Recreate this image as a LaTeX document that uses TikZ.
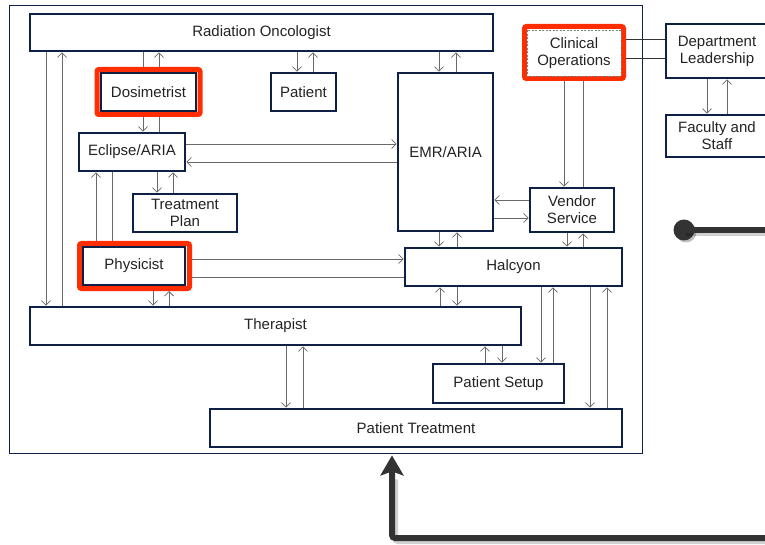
\documentclass[tikz,border=0pt]{standalone}
\usepackage{fontspec}
\setmainfont{Liberation Sans}
\usetikzlibrary{arrows.meta,shadows,calc}
\definecolor{navy}{RGB}{14,32,70}
\definecolor{lgray}{RGB}{105,105,105}
\definecolor{hred}{RGB}{255,45,0}
\definecolor{txt}{RGB}{35,35,35}
\definecolor{dark}{RGB}{51,51,51}
\begin{document}
\begin{tikzpicture}[x=1pt,y=-1pt,
 box/.style={draw=navy,line width=2.6pt,fill=white,text=txt,font=\fontsize{15}{17}\selectfont,align=center,inner sep=0pt},
 hl/.style={draw=hred,line width=5pt,fill=white,rounded corners=2pt,inner sep=0pt,drop shadow={shadow xshift=1.5pt,shadow yshift=-1.5pt,opacity=0.3,fill=black}},
 arr/.style={draw=lgray,line width=0.8pt,-{Straight Barb[length=4.5pt,width=9pt]}},
 ln/.style={draw=lgray,line width=0.8pt},
]
\useasboundingbox (0,0) rectangle (765,545);
% outer frame
\node[draw=navy,line width=0.8pt,minimum width=633pt,minimum height=448pt,inner sep=0pt] (frame) at (325.5,229) {};
% highlight frames
\node[hl,minimum width=103pt,minimum height=45pt] (dosR) at (148.5,92) {};
\node[hl,minimum width=110pt,minimum height=45pt] (phyR) at (134.5,266) {};
\node[hl,minimum width=99pt,minimum height=52pt] (coR) at (574,52.5) {};
% boxes
\node[box,minimum width=463pt,minimum height=37pt] (RO) at (261.5,32.5) {Radiation Oncologist};
\node[box,minimum width=95pt,minimum height=38pt] (Dos) at (148.5,92) {Dosimetrist};
\node[box,minimum width=65pt,minimum height=38pt] (Pat) at (303.5,92) {Patient};
\node[box,minimum width=95pt,minimum height=158pt] (EMR) at (445.5,152) {EMR/ARIA};
\node[box,minimum width=106pt,minimum height=38pt] (Ecl) at (132,152) {Eclipse/ARIA};
\node[box,minimum width=104pt,minimum height=38pt] (TP) at (185,213) {Treatment\\Plan};
\node[box,minimum width=102pt,minimum height=38pt] (Phy) at (134,266) {Physicist};
\node[box,minimum width=491pt,minimum height=38pt] (Ther) at (275.5,326) {Therapist};
\node[box,minimum width=217pt,minimum height=38pt] (Hal) at (513.5,267) {Halcyon};
\node[box,minimum width=131pt,minimum height=39pt] (PS) at (498.5,383.5) {Patient Setup};
\node[box,minimum width=412pt,minimum height=38pt] (PT) at (416,428) {Patient Treatment};
\node[box,draw=gray,line width=0.8pt,dash pattern=on 2pt off 1.5pt,minimum width=94pt,minimum height=46pt] (CO) at (574,53) {Clinical\\Operations};
\node[box,minimum width=102pt,minimum height=54pt] (DL) at (717,51) {Department\\Leadership};
\node[box,minimum width=102pt,minimum height=42pt] (FS) at (717,136) {Faculty and\\Staff};
\node[box,minimum width=84pt,minimum height=44pt] (VS) at (572,210) {Vendor\\Service};
% connectors
\draw[ln]  (RO.south -| 143,0) -- (dosR.north -| 143,0);
\draw[arr] (dosR.north -| 159,0) -- (RO.south -| 159,0);
\draw[arr] (dosR.south -| 143,0) -- (Ecl.north -| 143,0);
\draw[ln]  (Ecl.north -| 159,0) -- (dosR.south -| 159,0);
\draw[arr] (RO.south -| 297,0) -- (Pat.north -| 297,0);
\draw[arr] (Pat.north -| 313,0) -- (RO.south -| 313,0);
\draw[arr] (RO.south -| 439,0) -- (EMR.north -| 439,0);
\draw[arr] (EMR.north -| 456,0) -- (RO.south -| 456,0);
\draw[arr] (RO.south -| 46,0) -- (Ther.north -| 46,0);
\draw[arr] (Ther.north -| 62,0) -- (RO.south -| 62,0);
\draw[arr] (Ecl.east |- 0,144) -- (EMR.west |- 0,144);
\draw[arr] (EMR.west |- 0,162) -- (Ecl.east |- 0,162);
\draw[arr] (phyR.north -| 96,0) -- (Ecl.south -| 96,0);
\draw[ln]  (Ecl.south -| 112,0) -- (phyR.north -| 112,0);
\draw[arr] (Ecl.south -| 157,0) -- (TP.north -| 157,0);
\draw[arr] (TP.north -| 173,0) -- (Ecl.south -| 173,0);
\draw[arr] (phyR.east |- 0,259) -- (Hal.west |- 0,259);
\draw[ln]  (Hal.west |- 0,277) -- (phyR.east |- 0,277);
\draw[arr] (phyR.south -| 153,0) -- (Ther.north -| 153,0);
\draw[arr] (Ther.north -| 169,0) -- (phyR.south -| 169,0);
\draw[arr] (EMR.south -| 439,0) -- (Hal.north -| 439,0);
\draw[arr] (Hal.north -| 457,0) -- (EMR.south -| 457,0);
\draw[arr] (VS.west |- 0,200) -- (EMR.east |- 0,200);
\draw[arr] (EMR.east |- 0,218) -- (VS.west |- 0,218);
\draw[arr] (coR.south -| 564,0) -- (VS.north -| 564,0);
\draw[ln]  (VS.north -| 583,0) -- (coR.south -| 583,0);
\draw[draw=dark,line width=0.8pt] (coR.east |- 0,39) -- (DL.west |- 0,39);
\draw[draw=dark,line width=0.8pt] (coR.east |- 0,58) -- (DL.west |- 0,58);
\draw[arr] (DL.south -| 707,0) -- (FS.north -| 707,0);
\draw[arr] (FS.north -| 727,0) -- (DL.south -| 727,0);
\draw[arr] (VS.south -| 567,0) -- (Hal.north -| 567,0);
\draw[arr] (Hal.north -| 583,0) -- (VS.south -| 583,0);
\draw[arr] (Ther.north -| 440,0) -- (Hal.south -| 440,0);
\draw[arr] (Hal.south -| 457,0) -- (Ther.north -| 457,0);
\draw[arr] (Hal.south -| 541,0) -- (PS.north -| 541,0);
\draw[arr] (PS.north -| 553,0) -- (Hal.south -| 553,0);
\draw[arr] (Hal.south -| 590,0) -- (PT.north -| 590,0);
\draw[arr] (PT.north -| 607,0) -- (Hal.south -| 607,0);
\draw[arr] (PS.north -| 485,0) -- (Ther.south -| 485,0);
\draw[arr] (Ther.south -| 502,0) -- (PS.north -| 502,0);
\draw[arr] (Ther.south -| 286,0) -- (PT.north -| 286,0);
\draw[arr] (PT.north -| 303,0) -- (Ther.south -| 303,0);
% big arrows
\node[circle,fill=dark,minimum size=21pt,inner sep=0pt,drop shadow={shadow xshift=2pt,shadow yshift=-2pt,opacity=0.25,fill=black}] (dot) at (684,230) {};
\coordinate (e1) at (770,230);
\coordinate (e2) at (770,538);
\coordinate (tip) at ($(frame.south -| 392,0)+(0,2)$);
\draw[black,opacity=0.18,line width=6pt] ($(dot.center)+(2,3)$) -- ($(e1)+(2,3)$);
\draw[black,opacity=0.18,line width=6pt,rounded corners=3pt] ($(e2)+(2,3)$) -| ($(tip)+(3,24)$);
\draw[dark,line width=6pt] (dot.center) -- (e1);
\draw[dark,line width=6pt,rounded corners=3pt,-{Stealth[length=20pt,width=23pt,inset=4pt]}] (e2) -| (tip);
\end{tikzpicture}
\end{document}
